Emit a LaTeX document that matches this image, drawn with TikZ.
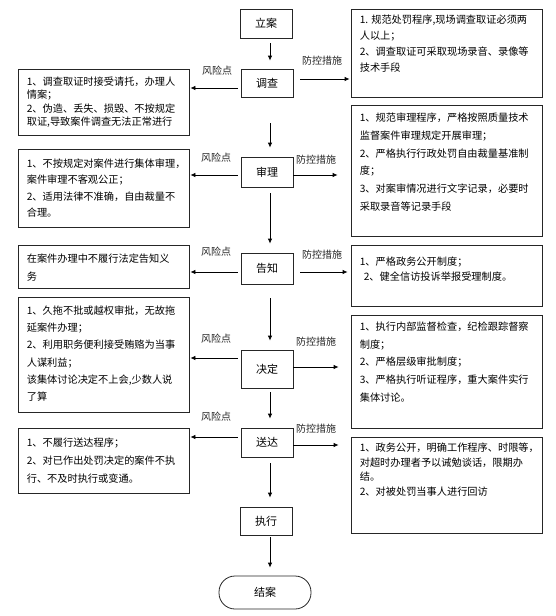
\documentclass[tikz,border=0pt]{standalone}
\usepackage{fontspec}
\setmainfont{Noto Sans CJK SC}
\usetikzlibrary{arrows.meta}
\begin{document}
\begin{tikzpicture}[x=1pt,y=-1pt,
  cbox/.style={draw=black!85, line width=0.8pt, minimum width=52pt, inner sep=0pt, font=\fontsize{11}{13}\selectfont},
  sbox/.style={draw=black!85, line width=0.8pt, inner sep=0pt},
  lbox/.style={sbox, minimum width=171pt},
  rbox/.style={sbox, minimum width=191pt},
  txt/.style={anchor=north west, inner sep=0pt, align=left},
  lbl/.style={inner sep=0pt, font=\fontsize{10}{12}\selectfont, text=black!85},
  arr/.style={line width=0.8pt, -{Latex[length=5pt,width=4.5pt]}}]
\useasboundingbox (0,0) rectangle (555,616);
% centre column
\node[cbox, minimum height=29pt] (la) at (266,23.5) {立案};
\node[cbox, minimum height=28pt] (dc) at (267,83) {调查};
\node[cbox, minimum height=30pt] (sl) at (267,172) {审理};
\node[cbox, minimum height=31pt] (gz) at (267,268.5) {告知};
\node[cbox, minimum height=38pt] (jd) at (267,369) {决定};
\node[cbox, minimum height=29pt] (sd) at (267,442.5) {送达};
\node[cbox, minimum height=28pt] (zx) at (266,521) {执行};
\node[sbox, minimum width=92pt, minimum height=33pt, rounded corners=16pt, font=\fontsize{11}{13}\selectfont] (ja) at (265,592.5) {结案};
% left boxes
\node[lbox, minimum height=66pt] (L1) at (103.5,102) {};
\node[lbox, minimum height=78pt] (L2) at (103.5,188) {};
\node[lbox, minimum height=43pt] (L3) at (103.5,266.5) {};
\node[lbox, minimum height=115pt] (L4) at (103.5,354.5) {};
\node[lbox, minimum height=65pt] (L5) at (103.5,460.5) {};
% right boxes
\node[rbox, minimum height=88pt] (R1) at (446.5,53) {};
\node[rbox, minimum height=131pt] (R2) at (446.5,170.5) {};
\node[rbox, minimum height=61pt] (R3) at (446.5,275.5) {};
\node[rbox, minimum height=113pt] (R4) at (446.5,371.5) {};
\node[rbox, minimum height=96pt] (R5) at (446.5,485) {};
% texts left
\node[txt, font=\fontsize{10.2}{13.5}\selectfont] (L1t) at ([xshift=9pt,yshift=-8pt]L1.north west)
 {1、调查取证时接受请托，办理人\\情案；\\2、伪造、丢失、损毁、不按规定\\取证,导致案件调查无法正常进行};
\node[txt, font=\fontsize{10.2}{16.5}\selectfont] (L2t) at ([xshift=9pt,yshift=-10pt]L2.north west)
 {1、不按规定对案件进行集体审理，\\案件审理不客观公正；\\2、适用法律不准确，自由裁量不\\合理。};
\node[txt, font=\fontsize{10.2}{18}\selectfont] (L3t) at ([xshift=9pt,yshift=-9pt]L3.north west)
 {在案件办理中不履行法定告知义\\务};
\node[txt, font=\fontsize{10.2}{17.2}\selectfont] (L4t) at ([xshift=9pt,yshift=-9pt]L4.north west)
 {1、久拖不批或越权审批，无故拖\\延案件办理；\\2、利用职务便利接受贿赂为当事\\人谋利益；\\该集体讨论决定不上会,少数人说\\了算};
\node[txt, font=\fontsize{10.2}{18}\selectfont] (L5t) at ([xshift=9pt,yshift=-10pt]L5.north west)
 {1、不履行送达程序；\\2、对已作出处罚决定的案件不执\\行、不及时执行或变通。};
% texts right
\node[txt, font=\fontsize{10.2}{16}\selectfont] (R1t) at ([xshift=9pt,yshift=-6pt]R1.north west)
 {1. 规范处罚程序,现场调查取证必须两\\人以上；\\2、调查取证可采取现场录音、录像等\\技术手段};
\node[txt, font=\fontsize{10.2}{17.8}\selectfont] (R2t) at ([xshift=9pt,yshift=-8pt]R2.north west)
 {1、规范审理程序，严格按照质量技术\\监督案件审理规定开展审理；\\2、严格执行行政处罚自由裁量基准制\\度；\\3、对案审情况进行文字记录，必要时\\采取录音等记录手段};
\node[txt, font=\fontsize{10.2}{15}\selectfont] (R3t) at ([xshift=9pt,yshift=-12pt]R3.north west)
 {1、严格政务公开制度；\\\hspace*{4pt}2、健全信访投诉举报受理制度。};
\node[txt, font=\fontsize{10.2}{17.7}\selectfont] (R4t) at ([xshift=9pt,yshift=-7pt]R4.north west)
 {1、执行内部监督检查，纪检跟踪督察\\制度；\\2、严格层级审批制度；\\3、严格执行听证程序，重大案件实行\\集体讨论。};
\node[txt, font=\fontsize{10.2}{14.7}\selectfont] (R5t) at ([xshift=9pt,yshift=-6pt]R5.north west)
 {1、政务公开，明确工作程序、时限等，\\对超时办理者予以诫勉谈话，限期办\\结。\\2、对被处罚当事人进行回访};
% vertical arrows
\draw[arr, shorten <=5pt, shorten >=8pt] ([xshift=4pt]la.south) -- ([xshift=3pt]dc.north);
\draw[arr, shorten <=26pt, shorten >=9pt] ([xshift=3pt]dc.south) -- ([xshift=3pt]sl.north);
\draw[arr, shorten <=6pt, shorten >=9pt] ([xshift=3pt]sl.south) -- ([xshift=3pt]gz.north);
\draw[arr, shorten <=14pt, shorten >=9pt] ([xshift=3pt]gz.south) -- ([xshift=3pt]jd.north);
\draw[arr, shorten <=4pt, shorten >=9pt] ([xshift=3pt]jd.south) -- ([xshift=3pt]sd.north);
\draw[arr, shorten <=6pt, shorten >=9pt] ([xshift=3pt]sd.south) -- ([xshift=3pt]sd.south |- zx.north);
\draw[arr, shorten <=2pt, shorten >=8pt] ([xshift=4pt]zx.south) -- ([xshift=4pt]zx.south |- ja.north);
% left arrows
\draw[arr, shorten <=3pt, shorten >=1pt] (dc.west |- 0,88) -- (L1.east |- 0,88);
\draw[arr, shorten <=3pt, shorten >=1pt] (sl.west |- 0,175) -- (L2.east |- 0,175);
\draw[arr, shorten <=3pt, shorten >=1pt] (gz.west |- 0,272) -- (L3.east |- 0,272);
\draw[arr, shorten <=3pt, shorten >=1pt] (jd.west |- 0,358) -- (L4.east |- 0,358);
\draw[arr, shorten <=3pt, shorten >=1pt] (sd.west |- 0,437) -- (L5.east |- 0,437);
% right arrows
\draw[arr, shorten <=7pt, shorten >=1pt] (dc.east |- 0,79) -- (R1.west |- 0,79);
\draw[arr, shorten >=13pt] (sl.east |- 0,175) -- (R2.west |- 0,175);
\draw[arr, shorten <=7pt, shorten >=3pt] (gz.east |- 0,272) -- (R3.west |- 0,272);
\draw[arr, shorten >=12pt] (jd.east |- 0,367) -- (R4.west |- 0,367);
\draw[arr, shorten >=12pt] (sd.east |- 0,445) -- (R5.west |- 0,445);
% labels
\node[lbl] (f1) at (217,71) {风险点};
\node[lbl] (f2) at (216,158) {风险点};
\node[lbl] (f3) at (216,252) {风险点};
\node[lbl] (f4) at (216,339) {风险点};
\node[lbl] (f5) at (216,417) {风险点};
\node[lbl] (p1) at (322,61) {防控措施};
\node[lbl] (p2) at (316,160) {防控措施};
\node[lbl] (p3) at (322,255) {防控措施};
\node[lbl] (p4) at (316,342) {防控措施};
\node[lbl] (p5) at (316,429) {防控措施};
\end{tikzpicture}
\end{document}
